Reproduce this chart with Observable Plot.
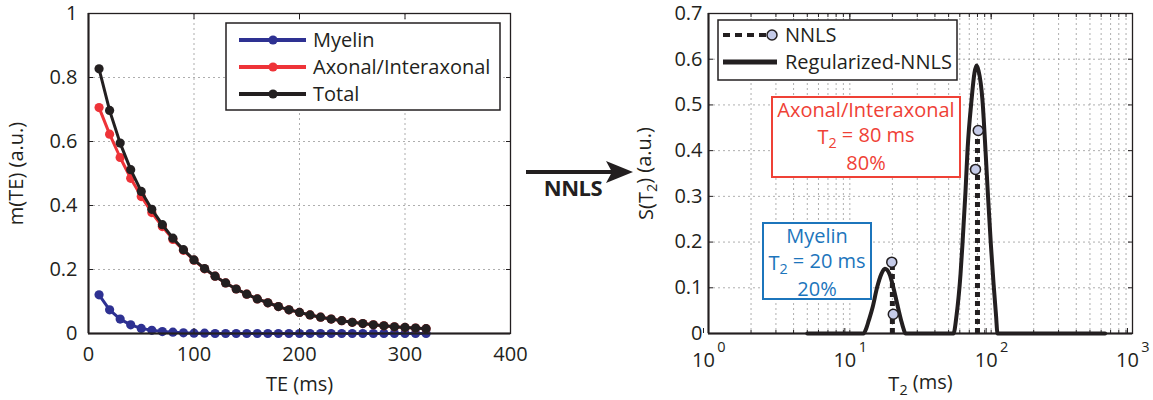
<!DOCTYPE html>
<html>
<head>
<meta charset="utf-8">
<script src="https://cdn.jsdelivr.net/npm/d3@7"></script>
<script src="https://cdn.jsdelivr.net/npm/@observablehq/plot@0.6"></script>
<style>
  body { margin: 0; background: #fff; }
  #fig { position: relative; width: 1153px; height: 400px; overflow: hidden; font-family: "Open Sans", sans-serif; color: #231f20; }
  #fig > svg { position: absolute; top: 0; }
  #overlay { left: 0; pointer-events: none; }
</style>
</head>
<body>
<div id="fig"></div>
<script>
// ---- Left panel: multi-echo decay curves m(TE) ----
const te = [10, 20, 30, 40, 50, 60, 70, 80, 90, 100, 110, 120, 130, 140, 150, 160,
            170, 180, 190, 200, 210, 220, 230, 240, 250, 260, 270, 280, 290, 300, 310, 320];
const myelin = [0.121, 0.074, 0.045, 0.027, 0.016, 0.010, 0.006, 0.004, 0.002, 0.001, 0.001, 0, 0, 0, 0, 0,
                0, 0, 0, 0, 0, 0, 0, 0, 0, 0, 0, 0, 0, 0, 0, 0];
const axonal = [0.706, 0.623, 0.550, 0.485, 0.428, 0.378, 0.334, 0.294, 0.260, 0.229, 0.202, 0.179, 0.158, 0.139, 0.123, 0.108,
                0.096, 0.084, 0.074, 0.066, 0.058, 0.051, 0.045, 0.040, 0.035, 0.031, 0.027, 0.024, 0.021, 0.019, 0.017, 0.015];
const total = [0.827, 0.697, 0.595, 0.512, 0.444, 0.388, 0.340, 0.298, 0.262, 0.230, 0.203, 0.179, 0.158, 0.139, 0.123, 0.108,
               0.096, 0.084, 0.074, 0.066, 0.058, 0.051, 0.045, 0.040, 0.035, 0.031, 0.027, 0.024, 0.021, 0.019, 0.017, 0.015];
const seriesNames = ["Myelin", "Axonal/Interaxonal", "Total"];
const seriesColors = ["#2e3192", "#ee3338", "#231f20"];
const teTicks = [0, 100, 200, 300, 400];
const mTicks = [0, 0.2, 0.4, 0.6, 0.8, 1];

// ---- Right panel: T2 spectra ----
const regT2 = [5, 12.5, 13.1, 13.6, 14.5, 15.6, 16.7, 17.7, 19.1, 20.3, 21.9, 23.1, 24.0, 24.8,
               54.1, 56.9, 60.7, 62.7, 65.8, 68.0, 72.6, 76.2, 78.8, 81.4, 86.8, 91.2, 95.0, 99.4, 103.9, 108.2, 110.9, 640];
const regS  = [0, 0, 0.012, 0.028, 0.0575, 0.101, 0.130, 0.1415, 0.130, 0.101, 0.0575, 0.028, 0.010, 0,
               0, 0.040, 0.130, 0.197, 0.310, 0.400, 0.510, 0.570, 0.586, 0.575, 0.510, 0.400, 0.300, 0.197, 0.110, 0.040, 0, 0];
const nnlsT2 = [19.8, 20.3, 77.5, 81];
const nnlsS  = [0.156, 0.042, 0.359, 0.444];
const compNames = ["Myelin", "Axonal/Interaxonal"];
const compT2 = [20, 80];          // ms
const compFraction = [20, 80];    // %
const compTop = [0.156, 0.444];   // tallest NNLS amplitude of each compartment
const compColors = ["#1c75bc", "#ef4136"];
const t2Ticks = [1, 10, 100, 1000];
const t2Exponents = ["0", "1", "2", "3"];
const t2Grid = [2, 3, 4, 5, 6, 7, 8, 9, 10, 20, 30, 40, 50, 60, 70, 80, 90, 100, 200, 300, 400, 500, 600, 700, 800, 900];
const sTicks = [0, 0.1, 0.2, 0.3, 0.4, 0.5, 0.6, 0.7];

const ink = "#231f20";
const gridStyle = {stroke: "#9a9a9a", strokeOpacity: 0.8, strokeDasharray: "2,3", strokeWidth: 1};
const numFmt = d => String(+d.toFixed(1));
const font = "'Open Sans', sans-serif";
const fontSize = 20;

// Rebuild any "₂" in a text element as a lowered, smaller tspan.
function subscript(textEl, str) {
  const sel = d3.select(textEl);
  sel.text(null);
  const parts = str.split("₂");
  parts.forEach((p, i) => {
    if (i > 0) sel.append("tspan").attr("dy", "0.3em").attr("font-size", "72%").text("2");
    const t = sel.append("tspan").text(p);
    if (i > 0) t.attr("dy", "-0.3em");
  });
}
function fixSubscripts(svg) {
  d3.select(svg).selectAll("text").each(function () {
    if (this.childElementCount === 0 && this.textContent.includes("₂")) subscript(this, this.textContent);
  });
}

const fig = document.getElementById("fig");

// Left panel
const rows = seriesNames.flatMap((s, k) => te.map((t, i) => ({te: t, m: [myelin, axonal, total][k][i], s})));
const left = Plot.plot({
  width: 560, height: 400,
  marginLeft: 88, marginRight: 50, marginTop: 13, marginBottom: 67,
  style: {fontFamily: font, fontSize: fontSize + "px", color: ink, background: "transparent"},
  x: {domain: [0, 400]},
  y: {domain: [0, 1]},
  color: {domain: seriesNames, range: seriesColors},
  marks: [
    Plot.gridX(teTicks.slice(1, -1), gridStyle),
    Plot.gridY(mTicks.slice(1, -1), gridStyle),
    ...seriesNames.flatMap(s => [
      Plot.line(rows.filter(d => d.s === s), {x: "te", y: "m", stroke: "s", strokeWidth: 3}),
      Plot.dot(rows.filter(d => d.s === s), {x: "te", y: "m", fill: "s", r: 4.6})
    ]),
    Plot.frame({stroke: ink, strokeWidth: 1.3}),
    Plot.ruleX([0], {stroke: ink, strokeWidth: 2}),
    Plot.ruleY([0], {stroke: ink, strokeWidth: 2}),
    Plot.axisX(teTicks, {tickSize: -5, tickPadding: 18, label: "TE (ms)", labelAnchor: "center", labelOffset: 57, labelArrow: "none"}),
    Plot.axisX(teTicks, {anchor: "top", tickSize: -5, tickFormat: () => "", label: null}),
    Plot.axisY(mTicks, {tickSize: -5, tickPadding: 16, tickFormat: numFmt, label: "m(TE) (a.u.)", labelAnchor: "center", labelOffset: 80, labelArrow: "none"}),
    Plot.axisY(mTicks, {anchor: "right", tickSize: -5, tickFormat: () => "", label: null})
  ]
});
left.style.left = "0px";
fig.appendChild(left);

// Right panel
const reg = regT2.map((t, i) => ({t2: t, s: regS[i]}));
const nnls = nnlsT2.map((t, i) => ({t2: t, s: nnlsS[i]}));
const comps = compT2.map((t, i) => ({t2: t, top: compTop[i]}));
const right = Plot.plot({
  width: 523, height: 400,
  marginLeft: 78, marginRight: 21, marginTop: 13, marginBottom: 67,
  style: {fontFamily: font, fontSize: fontSize + "px", color: ink, background: "transparent"},
  x: {type: "log", domain: [1, 1000]},
  y: {domain: [0, 0.7]},
  marks: [
    Plot.gridX(t2Grid, gridStyle),
    Plot.gridY(sTicks.slice(1, -1), gridStyle),
    Plot.frame({stroke: ink, strokeWidth: 1.3}),
    Plot.ruleX([1], {stroke: ink, strokeWidth: 2}),
    Plot.ruleY([0], {stroke: ink, strokeWidth: 2}),
    Plot.line(reg, {x: "t2", y: "s", stroke: ink, strokeWidth: 4, curve: "monotone-x"}),
    Plot.ruleX(comps, {x: "t2", y1: 0, y2: "top", stroke: ink, strokeWidth: 5, strokeDasharray: "5,4"}),
    Plot.dot(nnls, {x: "t2", y: "s", r: 5, fill: "#c5cbe8", stroke: ink, strokeWidth: 1.5}),
    Plot.axisX(t2Grid, {tickSize: -3, tickFormat: () => "", label: null}),
    Plot.axisX(t2Grid, {anchor: "top", tickSize: -3, tickFormat: () => "", label: null}),
    Plot.axisX(t2Ticks, {tickSize: -5, tickPadding: 24, tickFormat: () => "10", dx: -5, label: "T₂ (ms)", labelAnchor: "center", labelOffset: 57, labelArrow: "none"}),
    Plot.axisX(t2Ticks, {anchor: "top", tickSize: -5, tickFormat: () => "", label: null}),
    Plot.text(t2Ticks, {x: d => d, frameAnchor: "bottom", text: (d, i) => t2Exponents[i], dx: 13, dy: 18, fontSize: 14.5, fill: ink}),
    Plot.axisY(sTicks, {tickSize: -5, tickPadding: 11, tickFormat: numFmt, label: "S(T₂) (a.u.)", labelAnchor: "center", labelOffset: 70, labelArrow: "none"}),
    Plot.axisY(sTicks, {anchor: "right", tickSize: -5, tickFormat: () => "", label: null})
  ]
});
right.style.left = "630px";
fig.appendChild(right);
fixSubscripts(right);

// Overlay: legends, annotation boxes and the NNLS arrow
const ov = d3.select(fig).append("svg").attr("id", "overlay")
  .attr("width", 1153).attr("height", 400)
  .attr("font-family", font).attr("font-size", fontSize).attr("fill", ink);

// left legend
const lg = ov.append("g");
lg.append("rect").attr("x", 226).attr("y", 23).attr("width", 274).attr("height", 87)
  .attr("fill", "#fff").attr("stroke", ink).attr("stroke-width", 1.5);
seriesNames.forEach((s, i) => {
  const y = 40 + 27 * i;
  lg.append("line").attr("x1", 239).attr("x2", 306).attr("y1", y).attr("y2", y)
    .attr("stroke", seriesColors[i]).attr("stroke-width", 4);
  lg.append("circle").attr("cx", 273).attr("cy", y).attr("r", 4.6).attr("fill", seriesColors[i]);
  lg.append("text").attr("x", 313).attr("y", y).attr("dy", "0.35em").text(s);
});

// right legend
const rg = ov.append("g");
rg.append("rect").attr("x", 718).attr("y", 20).attr("width", 239).attr("height", 60)
  .attr("fill", "#fff").attr("stroke", ink).attr("stroke-width", 1.5);
rg.append("line").attr("x1", 723).attr("x2", 767).attr("y1", 35).attr("y2", 35)
  .attr("stroke", ink).attr("stroke-width", 4).attr("stroke-dasharray", "7,5");
rg.append("circle").attr("cx", 772).attr("cy", 35).attr("r", 5)
  .attr("fill", "#c5cbe8").attr("stroke", ink).attr("stroke-width", 1.5);
rg.append("text").attr("x", 785).attr("y", 35).attr("dy", "0.35em").text("NNLS");
rg.append("line").attr("x1", 723).attr("x2", 777).attr("y1", 62).attr("y2", 62)
  .attr("stroke", ink).attr("stroke-width", 5);
rg.append("text").attr("x", 785).attr("y", 62).attr("dy", "0.35em").text("Regularized-NNLS");

// compartment annotations
const boxes = [
  {x: 763, y: 223, w: 108, h: 76},
  {x: 772, y: 97, w: 188, h: 80}
];
compNames.forEach((name, i) => {
  const b = boxes[i];
  const g = ov.append("g").attr("fill", compColors[i]);
  g.append("rect").attr("x", b.x).attr("y", b.y).attr("width", b.w).attr("height", b.h)
    .attr("fill", "#fff").attr("stroke", compColors[i]).attr("stroke-width", 2);
  const lines = [name, `T₂ = ${compT2[i]} ms`, `${compFraction[i]}%`];
  lines.forEach((L, j) => {
    const t = g.append("text").attr("x", b.x + b.w / 2).attr("y", b.y + 13 + 26.5 * j)
      .attr("dy", "0.35em").attr("text-anchor", "middle");
    subscript(t.node(), L);
  });
});

// arrow between panels
ov.append("line").attr("x1", 526).attr("x2", 614).attr("y1", 172).attr("y2", 172)
  .attr("stroke", ink).attr("stroke-width", 4);
ov.append("path").attr("d", "M633,172 L606,161 L612,172 L606,183 Z").attr("fill", ink);
ov.append("text").attr("x", 573).attr("y", 188).attr("dy", "0.35em").attr("text-anchor", "middle")
  .attr("font-size", 22).attr("font-weight", 700).attr("letter-spacing", -0.5).text("NNLS");
</script>
</body>
</html>
